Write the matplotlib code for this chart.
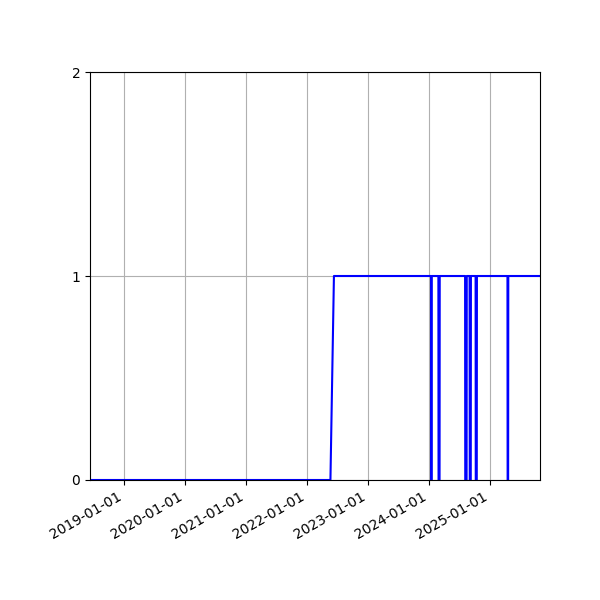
import pandas as pd
import matplotlib
matplotlib.use('Agg')
import matplotlib.pyplot as plt
import matplotlib.dates as mdates

dates = ['2018-06-11', '2022-05-22', '2022-06-12',
         '2024-01-15', '2024-01-16', '2024-01-18', '2024-01-19',
         '2024-02-28', '2024-02-29', '2024-03-06', '2024-03-07',
         '2024-08-06', '2024-08-07', '2024-08-15', '2024-08-16',
         '2024-09-02', '2024-09-03', '2024-09-09', '2024-09-10',
         '2024-10-08', '2024-10-09', '2024-10-15', '2024-10-16',
         '2025-04-17', '2025-04-18', '2025-04-21', '2025-04-22',
         '2025-10-29']
values = [0, 0, 1,
          1, 0, 0, 1,
          1, 0, 0, 1,
          1, 0, 0, 1,
          1, 0, 0, 1,
          1, 0, 0, 1,
          1, 0, 0, 1,
          1]
yticks = [0, 1, 2]

x = pd.to_datetime(dates)

fig = plt.figure(figsize=(6, 6), dpi=100)
ax = fig.add_subplot(111)
ax.plot(x, values, 'b', linewidth=1.5)
ax.set_xlim(x.min(), x.max())
ax.set_ylim(0, 2)
ax.set_yticks(yticks)
ax.xaxis.set_major_locator(mdates.YearLocator())
ax.xaxis.set_major_formatter(mdates.DateFormatter('%Y-%m-%d'))
ax.grid(True)
fig.autofmt_xdate()
fig.subplots_adjust(left=0.15, right=0.9, top=0.88, bottom=0.2)
fig.savefig('out.png')
